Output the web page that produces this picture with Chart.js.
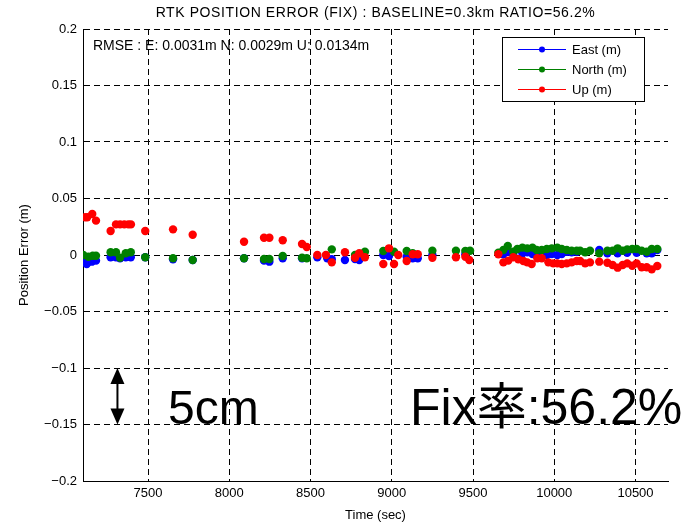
<!DOCTYPE html>
<html>
<head>
<meta charset="utf-8">
<script src="https://cdn.jsdelivr.net/npm/chart.js@4.4.0/dist/chart.umd.min.js"></script>
<style>
  html, body { margin: 0; padding: 0; background: #fff; }
  #c { display: block; }
</style>
</head>
<body>
<canvas id="c" width="683" height="523"></canvas>
<script>
// time (sec) and error (m)
const eastTime = [7102, 7123, 7154, 7180, 7270, 7303, 7328, 7363, 7394, 7483, 7654, 7775, 8091, 8214, 8247, 8329, 8448,
  8542, 8603, 8631, 8712, 8774, 8800, 8948, 8983, 9092, 9129, 9160, 9250, 9453, 9687, 9717, 9748, 9804, 9834, 9866,
  9896, 9954, 9985, 10019, 10046, 10077, 10107, 10138, 10277, 10327, 10390, 10449, 10507, 10569, 10600, 10634];
const eastVal = [-0.0059, -0.0080, -0.0059, -0.0050, -0.0020, -0.0020, -0.0029, -0.0020, -0.0020, -0.0020, -0.0038,
  -0.0044, -0.0029, -0.0050, -0.0059, -0.0029, -0.0029, -0.0020, -0.0029, -0.0038, -0.0044, -0.0035, -0.0044, 0.0,
  -0.0009, -0.0015, -0.0029, -0.0029, 0.0, 0.0006, 0.0006, 0.0029, 0.0009, 0.0015, 0.0024, 0.0009, 0.0009, 0.0,
  0.0009, 0.0, 0.0009, 0.0029, 0.0024, 0.0029, 0.0044, 0.0015, 0.0015, 0.0020, 0.0020, 0.0015, 0.0015, 0.0044];

const northTime = [7102, 7133, 7160, 7180, 7270, 7303, 7328, 7363, 7394, 7483, 7654, 7775, 8091, 8214, 8247, 8329,
  8448, 8477, 8631, 8774, 8835, 8948, 9014, 9092, 9129, 9250, 9395, 9453, 9482, 9656, 9687, 9714, 9748, 9773, 9804,
  9834, 9866, 9892, 9923, 9954, 9985, 10019, 10046, 10077, 10107, 10138, 10159, 10190, 10220, 10277, 10327, 10359,
  10390, 10421, 10449, 10480, 10507, 10538, 10569, 10600, 10634];
const northVal = [0.0, -0.0015, -0.0006, -0.0006, 0.0024, 0.0024, -0.0024, 0.0015, 0.0024, -0.0020, -0.0029, -0.0044,
  -0.0029, -0.0035, -0.0035, -0.0009, -0.0024, -0.0029, 0.0050, 0.0, 0.0029, 0.0035, 0.0029, 0.0035, 0.0015, 0.0038,
  0.0038, 0.0035, 0.0038, 0.0020, 0.0044, 0.0080, 0.0029, 0.0053, 0.0065, 0.0059, 0.0065, 0.0044, 0.0044, 0.0053,
  0.0059, 0.0065, 0.0053, 0.0044, 0.0038, 0.0038, 0.0038, 0.0024, 0.0038, 0.0015, 0.0038, 0.0038, 0.0059, 0.0038,
  0.0050, 0.0053, 0.0053, 0.0038, 0.0029, 0.0053, 0.0053];

const upTime = [7112, 7126, 7157, 7180, 7270, 7303, 7328, 7354, 7379, 7395, 7483, 7654, 7775, 8091, 8214, 8247, 8329,
  8448, 8477, 8542, 8595, 8631, 8712, 8774, 8800, 8835, 8948, 8983, 9014, 9040, 9092, 9129, 9160, 9250, 9395, 9453,
  9477, 9656, 9687, 9717, 9748, 9779, 9810, 9834, 9861, 9896, 9923, 9964, 9994, 10019, 10046, 10077, 10107, 10138,
  10159, 10190, 10220, 10277, 10327, 10359, 10390, 10421, 10449, 10480, 10507, 10538, 10569, 10600, 10634];
const upVal = [0.0334, 0.0334, 0.0363, 0.0304, 0.0212, 0.0271, 0.0271, 0.0271, 0.0271, 0.0271, 0.0212, 0.0227, 0.0179,
  0.0117, 0.0153, 0.0153, 0.0130, 0.0097, 0.0071, 0.0, 0.0, -0.0065, 0.0024, -0.0024, 0.0015, -0.0020, -0.0080, 0.0059,
  -0.0080, 0.0, -0.0053, 0.0006, 0.0006, -0.0024, -0.0020, -0.0015, -0.0044, 0.0006, -0.0065, -0.0050, -0.0020,
  -0.0038, -0.0053, -0.0065, -0.0080, -0.0029, -0.0029, -0.0065, -0.0074, -0.0074, -0.0080, -0.0074, -0.0065, -0.0053,
  -0.0053, -0.0074, -0.0065, -0.0059, -0.0068, -0.0089, -0.0112, -0.0089, -0.0074, -0.0095, -0.0074, -0.0109, -0.0109,
  -0.0127, -0.0097];

const seriesNames = ['East (m)', 'North (m)', 'Up (m)'];
const seriesColors = ['#0000ff', '#008000', '#ff0000'];
const xTicks = [7500, 8000, 8500, 9000, 9500, 10000, 10500];
const yTicks = [-0.2, -0.15, -0.1, -0.05, 0, 0.05, 0.1, 0.15, 0.2];

const titleText = 'RTK POSITION ERROR (FIX) : BASELINE=0.3km RATIO=56.2%';
const rmseText = 'RMSE : E: 0.0031m N: 0.0029m U: 0.0134m';

const FONT = '"Liberation Sans", "Noto Sans CJK JP", sans-serif';

function pts(t, v) {
  return t.map((x, i) => ({ x: x, y: v[i] }));
}

const overlay = {
  id: 'overlay',
  afterDraw(chart) {
    const ctx = chart.ctx;
    const a = chart.chartArea;
    const xs = chart.scales.x, ys = chart.scales.y;
    ctx.save();
    ctx.fillStyle = '#000';
    ctx.font = '14px ' + FONT;
    ctx.textAlign = 'center';
    ctx.textBaseline = 'middle';
    ctx.letterSpacing = '0.6px';
    ctx.fillText(titleText, (a.left + a.right) / 2, 13);
    ctx.letterSpacing = '0px';

    ctx.textAlign = 'left';
    ctx.fillText(rmseText, a.left + 10, 46);

    // legend
    ctx.font = '13px ' + FONT;
    const lx = 502, ly = 37, lw = 142, lh = 64;
    ctx.fillStyle = '#fff';
    ctx.fillRect(lx, ly, lw, lh);
    ctx.strokeStyle = '#000';
    ctx.lineWidth = 1;
    ctx.strokeRect(lx + 0.5, ly + 0.5, lw, lh);
    chart.data.datasets.forEach((ds, i) => {
      const yy = ly + 12 + i * 20;
      ctx.strokeStyle = ds.backgroundColor;
      ctx.beginPath();
      ctx.moveTo(lx + 16, yy + 0.5);
      ctx.lineTo(lx + 64, yy + 0.5);
      ctx.stroke();
      ctx.fillStyle = ds.backgroundColor;
      ctx.beginPath();
      ctx.arc(lx + 40, yy + 0.5, 3, 0, Math.PI * 2);
      ctx.fill();
      ctx.fillStyle = '#000';
      ctx.fillText(ds.label, lx + 70, yy + 1);
    });

    // 5cm arrow between -0.1 and -0.15
    const ax = xs.getPixelForValue(7312);
    const y1 = ys.getPixelForValue(-0.1), y2 = ys.getPixelForValue(-0.15);
    ctx.strokeStyle = '#000';
    ctx.fillStyle = '#000';
    ctx.lineWidth = 2;
    ctx.beginPath();
    ctx.moveTo(ax, y1 + 10);
    ctx.lineTo(ax, y2 - 10);
    ctx.stroke();
    ctx.beginPath();
    ctx.moveTo(ax, y1);
    ctx.lineTo(ax - 7, y1 + 16);
    ctx.lineTo(ax + 7, y1 + 16);
    ctx.closePath();
    ctx.fill();
    ctx.beginPath();
    ctx.moveTo(ax, y2);
    ctx.lineTo(ax - 7, y2 - 16);
    ctx.lineTo(ax + 7, y2 - 16);
    ctx.closePath();
    ctx.fill();

    ctx.textBaseline = 'alphabetic';
    ctx.font = '48px ' + FONT;
    ctx.fillText('5cm', 168, 424);
    ctx.font = '50px ' + FONT;
    ctx.fillText('Fix率:56.2%', 410, 424);
    ctx.restore();
  }
};

new Chart(document.getElementById('c'), {
  type: 'scatter',
  data: {
    datasets: [
      { label: seriesNames[0], data: pts(eastTime, eastVal), backgroundColor: seriesColors[0], order: 2 },
      { label: seriesNames[1], data: pts(northTime, northVal), backgroundColor: seriesColors[1], order: 1 },
      { label: seriesNames[2], data: pts(upTime, upVal), backgroundColor: seriesColors[2], order: 0 }
    ]
  },
  options: {
    responsive: false,
    animation: false,
    devicePixelRatio: 1,
    layout: { padding: { left: 0, top: 29, right: 15, bottom: 0 } },
    elements: { point: { radius: 4.2, borderWidth: 0, hoverRadius: 4.2 } },
    plugins: { legend: { display: false }, tooltip: { enabled: false } },
    scales: {
      x: {
        type: 'linear',
        min: 7100,
        max: 10700,
        afterBuildTicks: s => { s.ticks = xTicks.map(v => ({ value: v })); },
        afterFit: s => { s.height = 42; },
        ticks: { color: '#000', font: { family: FONT, size: 13 }, padding: 5, maxRotation: 0, callback: v => String(v) },
        grid: { color: '#000', lineWidth: 1, drawTicks: false },
        border: { display: true, color: '#000', dash: [6, 4], width: 1 },
        title: { display: true, text: 'Time (sec)', color: '#000', font: { family: FONT, size: 13 }, padding: { top: 0, bottom: 0 } }
      },
      y: {
        min: -0.2,
        max: 0.2,
        afterBuildTicks: s => { s.ticks = yTicks.map(v => ({ value: v })); },
        afterFit: s => { s.width = 83; },
        ticks: {
          color: '#000', font: { family: FONT, size: 13 }, padding: 6,
          callback: v => String(Math.round(v * 100) / 100).replace('-', '\u2212')
        },
        grid: { color: '#000', lineWidth: 1, drawTicks: false },
        border: { display: true, color: '#000', dash: [6, 4], width: 1 },
        title: { display: true, text: 'Position Error (m)', color: '#000', font: { family: FONT, size: 13 }, padding: { top: 17, bottom: 0 } }
      }
    }
  },
  plugins: [overlay]
});
</script>
</body>
</html>
